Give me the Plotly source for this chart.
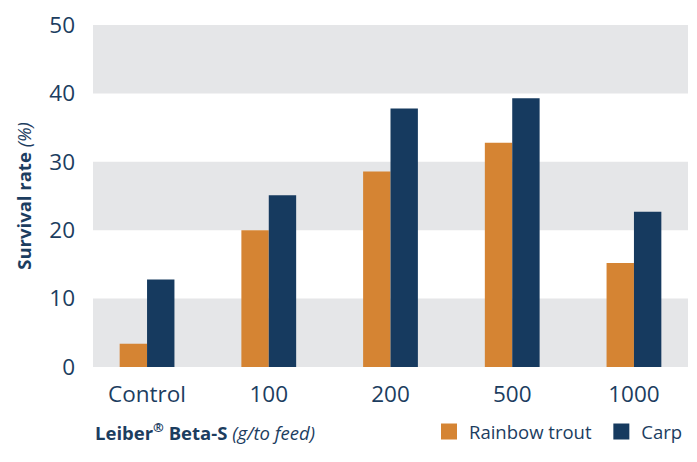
import plotly.graph_objects as go

categories = ["Control", "100", "200", "500", "1000"]
rainbow_trout = [3.4, 20.0, 28.6, 32.8, 15.2]
carp = [12.8, 25.1, 37.8, 39.3, 22.7]
y_ticks = [0, 10, 20, 30, 40, 50]
bands = [(0, 10), (20, 30), (40, 50)]

ORANGE = "#d58433"
NAVY = "#163a5f"
TEXT = "#1c3d5f"
GRAY = "#e5e6e8"
FONT = "Open Sans"

fig = go.Figure()
fig.add_trace(go.Bar(name="Rainbow trout", x=categories, y=rainbow_trout, showlegend=False,
                     marker=dict(color=ORANGE, line=dict(width=0))))
fig.add_trace(go.Bar(name="Carp", x=categories, y=carp, showlegend=False,
                     marker=dict(color=NAVY, line=dict(width=0))))
# legend entries with larger square swatches
for name, col in [("Rainbow trout\u00a0", ORANGE), ("Carp", NAVY)]:
    fig.add_trace(go.Scatter(name=name, x=[None], y=[None], mode="markers",
                             marker=dict(symbol="square", size=16, color=col),
                             showlegend=True, hoverinfo="skip"))

for lo, hi in bands:
    fig.add_shape(type="rect", xref="paper", yref="y", x0=0, x1=1, y0=lo, y1=hi,
                  fillcolor=GRAY, line=dict(width=0), layer="below")

fig.update_layout(
    width=697, height=462,
    margin=dict(l=93, r=9, t=23, b=95),
    paper_bgcolor="white", plot_bgcolor="white",
    barmode="group", bargap=0.55, bargroupgap=0,
    font=dict(family=FONT, color=TEXT),
    showlegend=True,
    legend=dict(orientation="h", x=1.0, xanchor="right", y=-0.19, yanchor="middle",
                font=dict(size=18.5, color=TEXT), bgcolor="rgba(0,0,0,0)",
                itemwidth=30, traceorder="normal", tracegroupgap=0),
    xaxis=dict(range=[-0.444, 4.444], showgrid=False, zeroline=False, showline=False,
               tickfont=dict(size=22.5, color=TEXT), ticks="", ticklabelstandoff=11),
    yaxis=dict(range=[0, 50], tickvals=y_ticks, showgrid=False, zeroline=False,
               showline=False, tickfont=dict(size=22.5, color=TEXT), ticks="",
               ticklabelstandoff=17),
    annotations=[
        dict(text="<b>Survival rate</b> <i>(%)</i>", xref="paper", yref="paper",
             x=-0.118, y=0.5, textangle=-90, showarrow=False,
             font=dict(size=18.5, color=TEXT), xanchor="center", yanchor="middle"),
        dict(text="<b>Leiber<sup>®</sup> Beta-S</b> <i>(g/to feed)</i>", xref="paper", yref="paper",
             x=0, y=-0.19, xanchor="left", yanchor="middle", showarrow=False,
             font=dict(size=18.5, color=TEXT)),
    ],
)

fig.write_html("out.html")
